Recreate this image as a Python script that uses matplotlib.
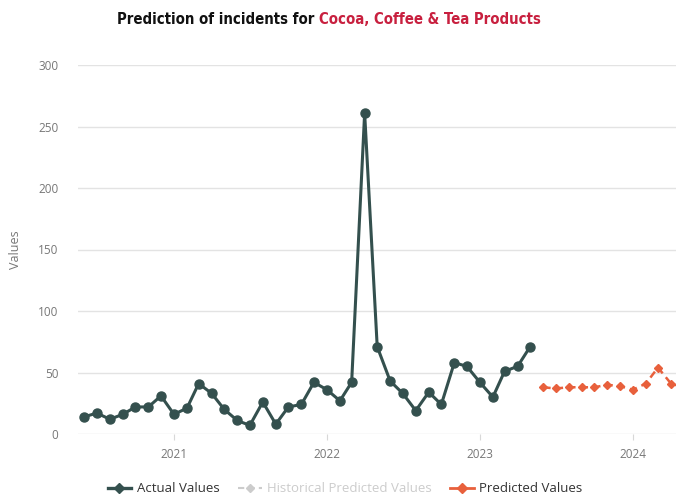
import matplotlib
matplotlib.use("Agg")
import matplotlib.pyplot as plt
from matplotlib import font_manager
from matplotlib.font_manager import FontProperties
from matplotlib.lines import Line2D
import pandas as pd

plt.rcParams['font.family'] = ['Open Sans', 'DejaVu Sans']

# Monthly incident counts
actual_dates = pd.date_range("2020-06-01", "2023-05-01", freq="MS")
actual_values = [14, 17, 12, 16, 22, 22, 31, 16, 21, 41, 33, 20,
                 11, 7, 26, 8, 22, 24, 42, 36, 27, 42, 261, 71,
                 43, 33, 19, 34, 24, 58, 55, 42, 30, 51, 55, 71]

pred_dates = pd.date_range("2023-06-01", "2024-05-01", freq="MS")
pred_values = [38, 37, 38, 38, 38, 40, 39, 36, 41, 54, 41, 38]

year_ticks = pd.to_datetime(["2021-01-01", "2022-01-01", "2023-01-01", "2024-01-01"])
year_labels = ["2021", "2022", "2023", "2024"]
y_ticks = [0, 50, 100, 150, 200, 250, 300]

actual_color = "#34504e"
pred_color = "#e8603c"
hist_color = "#cccccc"
title_red = "#c8203f"

W, H = 676, 501
fig = plt.figure(figsize=(W / 100, H / 100), dpi=100)
ax = fig.add_axes([78 / W, (H - 434) / H, (676 - 78) / W, (434 - 65) / H])

ax.plot(actual_dates, actual_values, color=actual_color, lw=2.2,
        marker="o", ms=6.5, mfc=actual_color, mec=actual_color,
        solid_joinstyle="round", zorder=3, clip_on=False)
ax.plot(pred_dates, pred_values, color=pred_color, lw=1.8, ls=(0, (3, 2)),
        marker="D", ms=4.5, mfc=pred_color, mec=pred_color, zorder=3)

ax.set_ylim(0, 300)
ax.set_xlim(pd.Timestamp("2020-05-17"), pd.Timestamp("2024-04-13"))
ax.set_yticks(y_ticks)
ax.set_xticks(year_ticks)
ax.set_xticklabels(year_labels)
ax.grid(axis="y", color="#e3e3e3", lw=1)
ax.set_axisbelow(True)
for s in ax.spines.values():
    s.set_visible(False)
ax.tick_params(axis="y", length=0, pad=14, labelsize=8.5, labelcolor="#777777")
ax.tick_params(axis="x", length=4, color="#d8d8d8", pad=6, labelsize=8.5, labelcolor="#777777")
ax.set_ylabel("Values", color="#777777", fontsize=9, labelpad=12)


def title_font():
    """Pick a bold condensed face if one is installed."""
    best = None
    for f in font_manager.fontManager.ttflist:
        name = (f.name + " " + str(f.fname)).lower()
        if ("condensed" in name or "narrow" in name) and f.weight in ("bold", 700, "heavy", 800, "black", 900):
            best = f.fname
            if "bold" in name:
                break
    if best:
        return FontProperties(fname=best)
    return FontProperties(family="DejaVu Sans", weight="bold")


# Title with highlighted category
fp = title_font()
title_left, title_right, title_y = 117, 540, 1 - 20 / H
size = 17
parts = [("Prediction of incidents for ", "#111111"), ("Cocoa, Coffee & Tea Products", title_red)]
for _ in range(3):
    texts = []
    x = title_left
    for s, c in parts:
        t = fig.text(x / W, title_y, s, fontproperties=fp, fontsize=size, color=c,
                     va="center", ha="left")
        fig.canvas.draw()
        x = t.get_window_extent().x1
        texts.append(t)
    width = x - title_left
    if abs(width - (title_right - title_left)) < 4:
        break
    for t in texts:
        t.remove()
    size *= (title_right - title_left) / width

handles = [
    Line2D([], [], color=actual_color, lw=2.4, marker="D", ms=5),
    Line2D([], [], color=hist_color, lw=1.5, marker="D", ms=4, ls=(0, (3, 2))),
    Line2D([], [], color=pred_color, lw=2, marker="D", ms=5),
]
leg = fig.legend(handles, ["Actual Values", "Historical Predicted Values", "Predicted Values"],
                 loc="center", bbox_to_anchor=(345 / W, 1 - 489 / H), ncol=3,
                 frameon=False, fontsize=9.5, handlelength=1.8, handletextpad=0.4,
                 columnspacing=1.4)
for txt, c in zip(leg.get_texts(), ["#333333", hist_color, "#333333"]):
    txt.set_color(c)

fig.savefig("out.png", dpi=100)
